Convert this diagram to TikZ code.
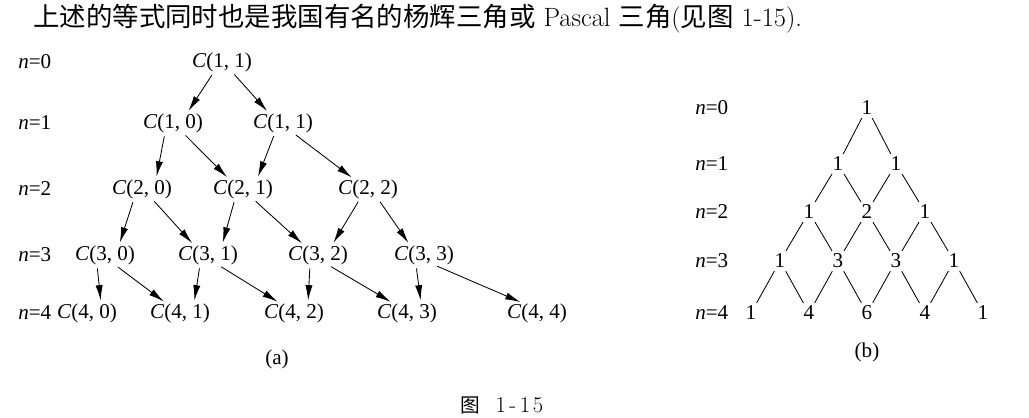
\documentclass[tikz,border=0pt]{standalone}
\usepackage{fontspec}
\newfontfamily\cjk{Noto Sans CJK SC}
\newfontfamily\tnr{Liberation Serif}
\usetikzlibrary{arrows,arrows.meta,positioning}
\tikzset{cnode/.style={font=\tnr\fontsize{15}{18}\selectfont,inner sep=0pt},
         rowlab/.style={font=\tnr\fontsize{15}{18}\selectfont,anchor=west,inner sep=0pt},
         num/.style={font=\tnr\fontsize{15}{18}\selectfont,inner xsep=2pt,inner ysep=2pt},
         sublab/.style={font=\tnr\fontsize{15}{18}\selectfont,inner sep=0pt},
         arr/.style={-{Latex[length=0.38cm,width=0.18cm]},line width=0.6pt,shorten <=2.5pt,shorten >=2pt},
         tie/.style={line width=0.6pt}
}

\begin{document}
\begin{tikzpicture}[x=0.025cm,y=-0.025cm]
\useasboundingbox (0,0) rectangle (1029,418);

\node [anchor=west,inner sep=0pt,font=\fontsize{18.8}{22}\selectfont] (title) at (33,19)
    {{\cjk 上述的等式同时也是我国有名的杨辉三角或} Pascal {\cjk 三角}({\cjk 见图} 1-15).};

% (a)
\node [rowlab] (na0) at (18,62) {\textit{n}=0};
\node [rowlab] (na1) at (18,123) {\textit{n}=1};
\node [rowlab] (na2) at (18,189) {\textit{n}=2};
\node [rowlab] (na3) at (18,255) {\textit{n}=3};
\node [rowlab] (na4) at (18,313) {\textit{n}=4};

\node [cnode] (c00) at (222,62) {\textit{C}(1, 1)};
\node [cnode] (c10) at (173,123) {\textit{C}(1, 0)};
\node [cnode] (c11) at (283,123) {\textit{C}(1, 1)};
\node [cnode] (c20) at (142,189) {\textit{C}(2, 0)};
\node [cnode] (c21) at (243,189) {\textit{C}(2, 1)};
\node [cnode] (c22) at (368,189) {\textit{C}(2, 2)};
\node [cnode] (c30) at (105,255) {\textit{C}(3, 0)};
\node [cnode] (c31) at (208,255) {\textit{C}(3, 1)};
\node [cnode] (c32) at (318,255) {\textit{C}(3, 2)};
\node [cnode] (c33) at (424,255) {\textit{C}(3, 3)};
\node [cnode] (c40) at (87,313) {\textit{C}(4, 0)};
\node [cnode] (c41) at (180,313) {\textit{C}(4, 1)};
\node [cnode] (c42) at (294,313) {\textit{C}(4, 2)};
\node [cnode] (c43) at (407,313) {\textit{C}(4, 3)};
\node [cnode] (c44) at (537,313) {\textit{C}(4, 4)};

\foreach \p/\l/\r in {c00/c10/c11,c10/c20/c21,c11/c21/c22,c20/c30/c31,c21/c31/c32,
                      c22/c32/c33,c30/c40/c41,c31/c41/c42,c32/c42/c43,c33/c43/c44}{
    \draw [arr] ([xshift=-0.2cm]\p.south) -- ([xshift=0.35cm]\l.north);
    \draw [arr] ([xshift=0.25cm]\p.south) -- ([xshift=-0.35cm]\r.north);
}

\node [sublab] (suba) at (277,359) {(a)};

% (b)
\node [rowlab] (nb0) at (695,108) {\textit{n}=0};
\node [rowlab] (nb1) at (695,164) {\textit{n}=1};
\node [rowlab] (nb2) at (695,212) {\textit{n}=2};
\node [rowlab] (nb3) at (695,261) {\textit{n}=3};
\node [rowlab] (nb4) at (695,313) {\textit{n}=4};

\node [num] (b00) at (867,108) {1};
\node [num] (b10) at (838,164) {1};
\node [num] (b11) at (896,164) {1};
\node [num] (b20) at (809,212) {1};
\node [num] (b21) at (867,212) {2};
\node [num] (b22) at (925,212) {1};
\node [num] (b30) at (780,261) {1};
\node [num] (b31) at (838,261) {3};
\node [num] (b32) at (896,261) {3};
\node [num] (b33) at (954,261) {1};
\node [num] (b40) at (751,313) {1};
\node [num] (b41) at (809,313) {4};
\node [num] (b42) at (867,313) {6};
\node [num] (b43) at (925,313) {4};
\node [num] (b44) at (983,313) {1};

\foreach \p/\l/\r in {b00/b10/b11,b10/b20/b21,b11/b21/b22,b20/b30/b31,b21/b31/b32,
                      b22/b32/b33,b30/b40/b41,b31/b41/b42,b32/b42/b43,b33/b43/b44}{
    \draw [tie] (\p) -- (\l);
    \draw [tie] (\p) -- (\r);
}

\node [sublab] (subb) at (867,352) {(b)};

\node [inner sep=0pt,font=\fontsize{14}{16}\selectfont] (cap) at (502,405)
    {{\cjk 图}\hspace{0.38cm}{\fontsize{16}{18}\selectfont 1\hspace{2.5pt}-\hspace{2.5pt}1\hspace{2pt}5}};
\end{tikzpicture}
\end{document}
